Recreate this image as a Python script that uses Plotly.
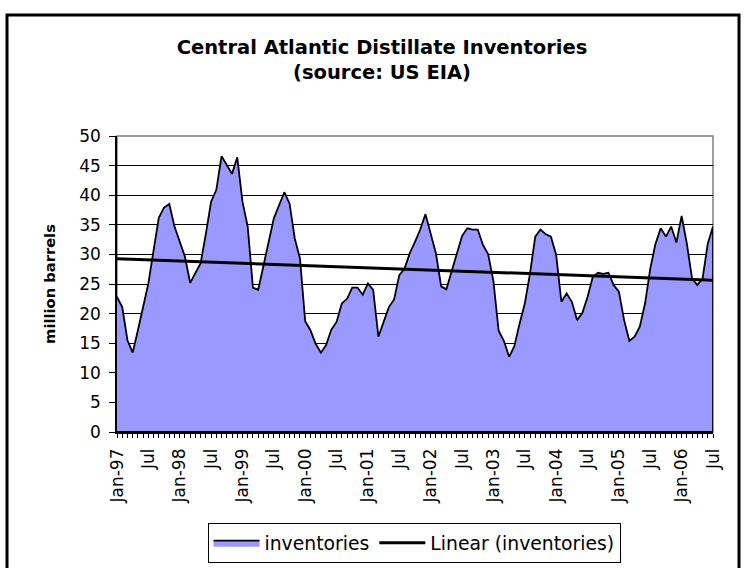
import numpy as np
import plotly.graph_objects as go

# ---- data (million barrels, monthly Jan-1997 .. Jul-2006) ----
years = [97, 98, 99, 0, 1, 2, 3, 4, 5, 6]
month_names = ["Jan", "Feb", "Mar", "Apr", "May", "Jun",
               "Jul", "Aug", "Sep", "Oct", "Nov", "Dec"]
months = [f"{m}-{y:02d}" for y in years for m in month_names][:115]

inventories = [
    22.8, 21.1, 15.5, 13.4, 17.2, 21.1, 25.1, 30.7, 36.2, 37.9, 38.5, 34.7,   # 1997
    32.1, 29.6, 25.2, 26.8, 28.5, 33.5, 38.9, 40.9, 46.6, 45.1, 43.6, 46.4,   # 1998
    38.9, 34.7, 24.4, 24.0, 27.9, 32.1, 36.1, 38.3, 40.5, 38.6, 32.7, 29.3,   # 1999
    18.7, 17.2, 14.9, 13.4, 14.7, 17.3, 18.6, 21.7, 22.5, 24.4, 24.4, 23.2,   # 2000
    25.1, 24.0, 16.1, 18.6, 21.1, 22.4, 26.5, 27.6, 30.2, 32.1, 34.2, 36.8,   # 2001
    33.5, 30.2, 24.6, 24.1, 27.1, 30.2, 33.1, 34.4, 34.2, 34.2, 31.6, 30.0,   # 2002
    25.5, 17.1, 15.4, 12.7, 14.5, 18.3, 21.7, 26.8, 33.0, 34.2, 33.4, 33.0,   # 2003
    29.9, 22.0, 23.4, 22.0, 18.9, 20.1, 22.8, 26.2, 26.9, 26.7, 26.9, 24.8,   # 2004
    23.7, 18.9, 15.4, 16.1, 17.8, 21.7, 27.6, 31.8, 34.4, 33.0, 34.7, 32.0,   # 2005
    36.5, 31.8, 25.9, 24.8, 25.9, 31.8, 34.7,                                 # 2006
]

tick_labels = ["Jan-97", "Jul", "Jan-98", "Jul", "Jan-99", "Jul", "Jan-00", "Jul",
               "Jan-01", "Jul", "Jan-02", "Jul", "Jan-03", "Jul", "Jan-04", "Jul",
               "Jan-05", "Jul", "Jan-06", "Jul"]

# ---- derived ----
idx = np.arange(len(inventories))
slope, intercept = np.polyfit(idx, inventories, 1)
trend = slope * idx + intercept

tickvals = list(idx)
ticktext = [""] * len(idx)
for k, lab in enumerate(tick_labels):
    ticktext[k * 6] = lab

W, H = 744, 568
ML, MR, MT, MB = 117, 31, 136, 136
PW, PH = W - ML - MR, H - MT - MB


def px_x(p):
    return (p - ML) / PW


def px_y(p):
    return (H - MB - p) / PH


FONT = "DejaVu Sans, Liberation Sans, Arial, sans-serif"

fig = go.Figure()
fig.add_trace(go.Scatter(
    x=list(idx) + [idx[-1], 0], y=list(inventories) + [0, 0],
    mode="lines", fill="toself", fillcolor="#9999FF",
    line=dict(color="black", width=1.8), name="inventories",
    hoverinfo="skip",
))
fig.add_trace(go.Scatter(
    x=idx, y=trend, mode="lines",
    line=dict(color="black", width=3), name="Linear (inventories)",
))

fig.update_layout(
    width=W, height=H,
    margin=dict(l=ML, r=MR, t=MT, b=MB, autoexpand=False),
    paper_bgcolor="white", plot_bgcolor="white",
    font=dict(family=FONT, color="black", size=16),
    title=dict(
        text="<b>Central Atlantic Distillate Inventories<br>(source: US EIA)</b>",
        x=(382 / W), xanchor="center", y=1 - 54 / H, yanchor="middle",
        font=dict(size=19.5, family=FONT),
    ),
    xaxis=dict(
        range=[0, idx[-1]], tickvals=tickvals, ticktext=ticktext,
        tickangle=-90, ticks="outside", ticklen=4, tickcolor="black",
        ticklabelstandoff=4, automargin=False,
        showline=True, linecolor="black", linewidth=1.5,
        showgrid=False, zeroline=False, tickfont=dict(size=17),
    ),
    yaxis=dict(
        range=[0, 50], dtick=5, ticks="outside", ticklen=6, tickcolor="black",
        ticklabelstandoff=5, automargin=False,
        showline=True, linecolor="black", linewidth=1.5,
        showgrid=True, gridcolor="black", gridwidth=1, zeroline=False,
        tickfont=dict(size=17),
        title=dict(text="<b>million barrels</b>", font=dict(size=14.7), standoff=20),
    ),
    legend=dict(
        orientation="h", x=px_x(414), xanchor="center", y=px_y(523), yanchor="top",
        bordercolor="black", borderwidth=1, font=dict(size=18.8),
        itemwidth=46, tracegroupgap=0,
    ),
    showlegend=True,
    shapes=[
        dict(type="rect", xref="paper", yref="paper",
             x0=0, x1=1, y0=0, y1=1, line=dict(color="#808080", width=1.5),
             layer="below"),
        dict(type="rect", xref="paper", yref="paper",
             x0=px_x(7), x1=px_x(739), y0=px_y(600), y1=px_y(15),
             line=dict(color="black", width=3), layer="above"),
    ],
)

fig.write_html(
    "out.html",
    config={"displayModeBar": False},
    post_script="document.body.style.margin='0';document.body.style.overflow='hidden';",
)
